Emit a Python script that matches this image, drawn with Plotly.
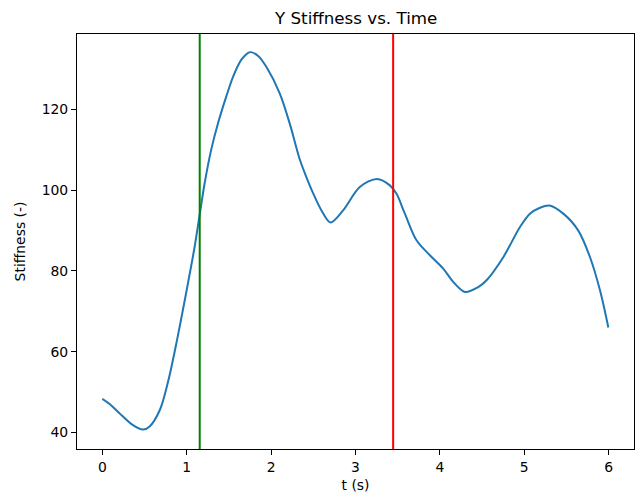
import plotly.graph_objects as go

# Stiffness samples along the time axis
t_s = [0.0, 0.1, 0.206, 0.35, 0.48, 0.561, 0.68, 0.778, 0.857, 0.937, 1.015, 1.094,
       1.154, 1.213, 1.293, 1.371, 1.47, 1.549, 1.65, 1.747, 1.85, 1.945, 2.102,
       2.221, 2.34, 2.419, 2.497, 2.597, 2.704, 2.853, 3.051, 3.256, 3.407, 3.486, 3.585,
       3.723, 3.881, 4.039, 4.158, 4.297, 4.454, 4.553, 4.751, 4.949, 5.067, 5.18,
       5.296, 5.462, 5.64, 5.779, 5.897, 5.996]
stiffness = [48.3, 46.8, 44.7, 42.0, 40.7, 41.5, 45.5, 52.5, 60.0, 68.4, 77.0, 86.0,
             94.0, 101.8, 110.3, 116.6, 123.3, 128.1, 132.4, 134.2, 133.2, 130.5, 124.0,
             116.5, 107.6, 103.2, 99.3, 95.0, 92.0, 95.0, 100.8, 102.8, 101.2, 99.1, 94.2,
             87.6, 83.9, 80.6, 77.3, 74.8, 76.0, 77.7, 83.4, 90.9, 94.2, 95.6,
             96.2, 94.2, 90.0, 83.4, 75.2, 66.0]

# Event markers (seconds)
t_start = 1.154
t_end = 3.446

x_ticks = [0, 1, 2, 3, 4, 5, 6]
y_ticks = [40, 60, 80, 100, 120]

FONT = "DejaVu Sans"

fig = go.Figure()
fig.add_trace(go.Scatter(
    x=t_s, y=stiffness, mode="lines",
    line=dict(color="#1f77b4", width=2, shape="spline", smoothing=0.9),
    showlegend=False, hoverinfo="skip",
))

fig.add_shape(type="line", xref="x", yref="paper", x0=t_start, x1=t_start, y0=0, y1=1,
              line=dict(color="#008000", width=2), layer="above")
fig.add_shape(type="line", xref="x", yref="paper", x0=t_end, x1=t_end, y0=0, y1=1,
              line=dict(color="#ff0000", width=2), layer="above")

axis_common = dict(
    showgrid=False, zeroline=False, showline=True, mirror=True,
    linecolor="black", linewidth=1.1, ticks="outside", ticklen=5, tickwidth=1.1,
    tickcolor="black", tickfont=dict(family=FONT, size=13.9, color="black"),
)

fig.update_layout(
    width=636, height=503,
    margin=dict(l=77, r=2, t=34, b=54),
    paper_bgcolor="white", plot_bgcolor="white",
    xaxis=dict(range=[-0.3, 6.3], tickvals=x_ticks,
               title=dict(text="t (s)", font=dict(family=FONT, size=13.9, color="black"), standoff=6),
               **axis_common),
    yaxis=dict(range=[35.9, 138.7], tickvals=y_ticks,
               title=dict(text="Stiffness (-)", font=dict(family=FONT, size=13.9, color="black"), standoff=12),
               **axis_common),
    annotations=[dict(text="Y Stiffness vs. Time", xref="paper", yref="paper", x=0.5, y=1,
                      xanchor="center", yanchor="bottom", yshift=4, showarrow=False,
                      font=dict(family=FONT, size=16.7, color="black"))],
)

fig.write_html("out.html")
